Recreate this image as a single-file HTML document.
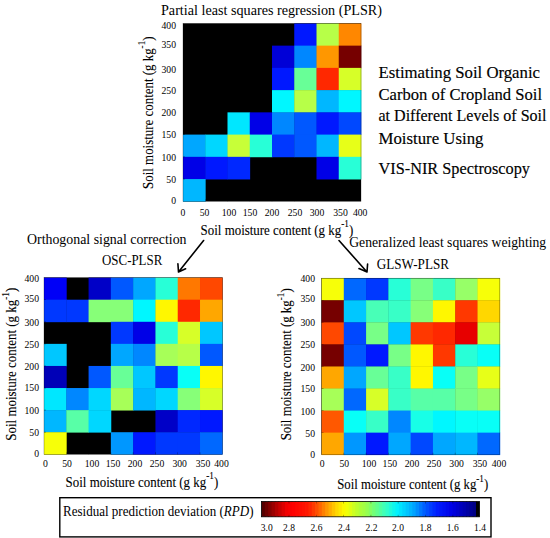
<!DOCTYPE html>
<html><head><meta charset="utf-8"><title>Graphical abstract</title>
<style>html,body{margin:0;padding:0;background:#fff}svg{display:block}text{fill:#000}</style></head>
<body><svg width="550" height="538" viewBox="0 0 550 538">
<rect width="550" height="538" fill="#fff"/>
<rect x="183" y="23.4" width="178" height="177.9" fill="#000"/>
<rect x="294.25" y="23.40" width="22.65" height="22.64" fill="rgb(0, 24, 255)"/>
<rect x="316.50" y="23.40" width="22.65" height="22.64" fill="rgb(183, 255, 72)"/>
<rect x="338.75" y="23.40" width="22.65" height="22.64" fill="rgb(255, 135, 0)"/>
<rect x="272.00" y="45.64" width="22.65" height="22.64" fill="rgb(0, 0, 215)"/>
<rect x="294.25" y="45.64" width="22.65" height="22.64" fill="rgb(0, 135, 255)"/>
<rect x="316.50" y="45.64" width="22.65" height="22.64" fill="rgb(255, 151, 0)"/>
<rect x="338.75" y="45.64" width="22.65" height="22.64" fill="rgb(118, 0, 0)"/>
<rect x="272.00" y="67.88" width="22.65" height="22.64" fill="rgb(0, 24, 255)"/>
<rect x="294.25" y="67.88" width="22.65" height="22.64" fill="rgb(104, 255, 151)"/>
<rect x="316.50" y="67.88" width="22.65" height="22.64" fill="rgb(255, 40, 0)"/>
<rect x="338.75" y="67.88" width="22.65" height="22.64" fill="rgb(215, 255, 40)"/>
<rect x="272.00" y="90.11" width="22.65" height="22.64" fill="rgb(0, 247, 255)"/>
<rect x="294.25" y="90.11" width="22.65" height="22.64" fill="rgb(183, 255, 72)"/>
<rect x="316.50" y="90.11" width="22.65" height="22.64" fill="rgb(0, 183, 255)"/>
<rect x="338.75" y="90.11" width="22.65" height="22.64" fill="rgb(0, 247, 255)"/>
<rect x="227.50" y="112.35" width="22.65" height="22.64" fill="rgb(0, 231, 255)"/>
<rect x="249.75" y="112.35" width="22.65" height="22.64" fill="rgb(0, 0, 231)"/>
<rect x="272.00" y="112.35" width="22.65" height="22.64" fill="rgb(0, 135, 255)"/>
<rect x="294.25" y="112.35" width="22.65" height="22.64" fill="rgb(0, 88, 255)"/>
<rect x="316.50" y="112.35" width="22.65" height="22.64" fill="rgb(0, 24, 255)"/>
<rect x="338.75" y="112.35" width="22.65" height="22.64" fill="rgb(0, 72, 255)"/>
<rect x="183.00" y="134.59" width="22.65" height="22.64" fill="rgb(0, 167, 255)"/>
<rect x="205.25" y="134.59" width="22.65" height="22.64" fill="rgb(0, 215, 255)"/>
<rect x="227.50" y="134.59" width="22.65" height="22.64" fill="rgb(199, 255, 56)"/>
<rect x="249.75" y="134.59" width="22.65" height="22.64" fill="rgb(40, 255, 215)"/>
<rect x="272.00" y="134.59" width="22.65" height="22.64" fill="rgb(0, 56, 255)"/>
<rect x="294.25" y="134.59" width="22.65" height="22.64" fill="rgb(0, 88, 255)"/>
<rect x="316.50" y="134.59" width="22.65" height="22.64" fill="rgb(0, 183, 255)"/>
<rect x="338.75" y="134.59" width="22.65" height="22.64" fill="rgb(231, 255, 24)"/>
<rect x="183.00" y="156.83" width="22.65" height="22.64" fill="rgb(0, 0, 231)"/>
<rect x="205.25" y="156.83" width="22.65" height="22.64" fill="rgb(0, 24, 255)"/>
<rect x="227.50" y="156.83" width="22.65" height="22.64" fill="rgb(0, 40, 255)"/>
<rect x="316.50" y="156.83" width="22.65" height="22.64" fill="rgb(0, 0, 231)"/>
<rect x="338.75" y="156.83" width="22.65" height="22.64" fill="rgb(40, 255, 215)"/>
<rect x="183.00" y="179.06" width="22.65" height="22.64" fill="rgb(0, 183, 255)"/>
<rect x="183" y="23.4" width="178" height="177.9" fill="none" stroke="#000" stroke-width="0.5" opacity="0.55"/>
<line x1="205.25" y1="201.3" x2="205.25" y2="199.3" stroke="#000" stroke-width="0.5" opacity="0.6"/>
<line x1="183" y1="45.64" x2="185" y2="45.64" stroke="#000" stroke-width="0.5" opacity="0.6"/>
<line x1="227.50" y1="201.3" x2="227.50" y2="199.3" stroke="#000" stroke-width="0.5" opacity="0.6"/>
<line x1="183" y1="67.88" x2="185" y2="67.88" stroke="#000" stroke-width="0.5" opacity="0.6"/>
<line x1="249.75" y1="201.3" x2="249.75" y2="199.3" stroke="#000" stroke-width="0.5" opacity="0.6"/>
<line x1="183" y1="90.11" x2="185" y2="90.11" stroke="#000" stroke-width="0.5" opacity="0.6"/>
<line x1="272.00" y1="201.3" x2="272.00" y2="199.3" stroke="#000" stroke-width="0.5" opacity="0.6"/>
<line x1="183" y1="112.35" x2="185" y2="112.35" stroke="#000" stroke-width="0.5" opacity="0.6"/>
<line x1="294.25" y1="201.3" x2="294.25" y2="199.3" stroke="#000" stroke-width="0.5" opacity="0.6"/>
<line x1="183" y1="134.59" x2="185" y2="134.59" stroke="#000" stroke-width="0.5" opacity="0.6"/>
<line x1="316.50" y1="201.3" x2="316.50" y2="199.3" stroke="#000" stroke-width="0.5" opacity="0.6"/>
<line x1="183" y1="156.83" x2="185" y2="156.83" stroke="#000" stroke-width="0.5" opacity="0.6"/>
<line x1="338.75" y1="201.3" x2="338.75" y2="199.3" stroke="#000" stroke-width="0.5" opacity="0.6"/>
<line x1="183" y1="179.06" x2="185" y2="179.06" stroke="#000" stroke-width="0.5" opacity="0.6"/>
<text x="183" y="215.8" font-size="9.7" text-anchor="middle" font-family="Liberation Serif, serif">0</text>
<text x="204.5" y="215.8" font-size="9.7" text-anchor="middle" font-family="Liberation Serif, serif">50</text>
<text x="229" y="215.8" font-size="9.7" text-anchor="middle" font-family="Liberation Serif, serif">100</text>
<text x="250" y="215.8" font-size="9.7" text-anchor="middle" font-family="Liberation Serif, serif">150</text>
<text x="272" y="215.8" font-size="9.7" text-anchor="middle" font-family="Liberation Serif, serif">200</text>
<text x="295" y="215.8" font-size="9.7" text-anchor="middle" font-family="Liberation Serif, serif">250</text>
<text x="317" y="215.8" font-size="9.7" text-anchor="middle" font-family="Liberation Serif, serif">300</text>
<text x="340.5" y="215.8" font-size="9.7" text-anchor="middle" font-family="Liberation Serif, serif">350</text>
<text x="360.2" y="215.8" font-size="9.7" text-anchor="middle" font-family="Liberation Serif, serif">400</text>
<text x="176" y="28.6" font-size="9.7" text-anchor="end" font-family="Liberation Serif, serif">400</text>
<text x="176" y="48.4" font-size="9.7" text-anchor="end" font-family="Liberation Serif, serif">350</text>
<text x="176" y="72.6" font-size="9.7" text-anchor="end" font-family="Liberation Serif, serif">300</text>
<text x="176" y="94.1" font-size="9.7" text-anchor="end" font-family="Liberation Serif, serif">250</text>
<text x="176" y="116.1" font-size="9.7" text-anchor="end" font-family="Liberation Serif, serif">200</text>
<text x="176" y="137.6" font-size="9.7" text-anchor="end" font-family="Liberation Serif, serif">150</text>
<text x="176" y="160.7" font-size="9.7" text-anchor="end" font-family="Liberation Serif, serif">100</text>
<text x="176" y="182.6" font-size="9.7" text-anchor="end" font-family="Liberation Serif, serif">50</text>
<text x="176" y="204.29999999999998" font-size="9.7" text-anchor="end" font-family="Liberation Serif, serif">0</text>
<g transform="translate(200.6,234.7)"><text x="0" y="0" font-size="13.8" font-family="Liberation Serif, serif" textLength="152.6" lengthAdjust="spacingAndGlyphs" stroke="#000" stroke-width="0.1">Soil moisture content (g kg<tspan dy="-7.3" font-size="9.9">-1</tspan><tspan dy="7.3">)</tspan></text></g>
<g transform="translate(152.7,188.9) rotate(-90)"><text x="0" y="0" font-size="13.8" font-family="Liberation Serif, serif" textLength="152.5" lengthAdjust="spacingAndGlyphs" stroke="#000" stroke-width="0.1">Soil moisture content (g kg<tspan dy="-7.3" font-size="9.9">-1</tspan><tspan dy="7.3">)</tspan></text></g>
<text x="161" y="14.6" font-size="14" font-family="Liberation Serif, serif" textLength="221" lengthAdjust="spacingAndGlyphs" >Partial least squares regression (PLSR)</text>
<text x="378.5" y="77.7" font-size="16.2" font-family="Liberation Serif, serif" textLength="161.5" lengthAdjust="spacingAndGlyphs" stroke="#000" stroke-width="0.15">Estimating Soil Organic</text>
<text x="378.5" y="99.7" font-size="16.2" font-family="Liberation Serif, serif" textLength="163.5" lengthAdjust="spacingAndGlyphs" stroke="#000" stroke-width="0.15">Carbon of Cropland Soil</text>
<text x="378.5" y="121.2" font-size="16.2" font-family="Liberation Serif, serif" textLength="168" lengthAdjust="spacingAndGlyphs" stroke="#000" stroke-width="0.15">at Different Levels of Soil</text>
<text x="378.5" y="143.8" font-size="16.2" font-family="Liberation Serif, serif" textLength="105" lengthAdjust="spacingAndGlyphs" stroke="#000" stroke-width="0.15">Moisture Using</text>
<text x="378.5" y="173.8" font-size="16.2" font-family="Liberation Serif, serif" textLength="151.5" lengthAdjust="spacingAndGlyphs" stroke="#000" stroke-width="0.15">VIS-NIR Spectroscopy</text>
<rect x="44" y="277.6" width="178.3" height="176.7" fill="#000"/>
<rect x="44.00" y="277.60" width="22.69" height="22.49" fill="rgb(0, 0, 247)"/>
<rect x="88.58" y="277.60" width="22.69" height="22.49" fill="rgb(0, 0, 199)"/>
<rect x="110.86" y="277.60" width="22.69" height="22.49" fill="rgb(0, 88, 255)"/>
<rect x="133.15" y="277.60" width="22.69" height="22.49" fill="rgb(0, 167, 255)"/>
<rect x="155.44" y="277.60" width="22.69" height="22.49" fill="rgb(40, 255, 215)"/>
<rect x="177.73" y="277.60" width="22.69" height="22.49" fill="rgb(255, 120, 0)"/>
<rect x="200.01" y="277.60" width="22.69" height="22.49" fill="rgb(255, 72, 0)"/>
<rect x="44.00" y="299.69" width="22.69" height="22.49" fill="rgb(0, 56, 255)"/>
<rect x="66.29" y="299.69" width="22.69" height="22.49" fill="rgb(0, 56, 255)"/>
<rect x="88.58" y="299.69" width="22.69" height="22.49" fill="rgb(135, 255, 120)"/>
<rect x="110.86" y="299.69" width="22.69" height="22.49" fill="rgb(135, 255, 120)"/>
<rect x="133.15" y="299.69" width="22.69" height="22.49" fill="rgb(0, 247, 255)"/>
<rect x="155.44" y="299.69" width="22.69" height="22.49" fill="rgb(255, 247, 0)"/>
<rect x="177.73" y="299.69" width="22.69" height="22.49" fill="rgb(255, 40, 0)"/>
<rect x="200.01" y="299.69" width="22.69" height="22.49" fill="rgb(255, 167, 0)"/>
<rect x="110.86" y="321.78" width="22.69" height="22.49" fill="rgb(0, 56, 255)"/>
<rect x="133.15" y="321.78" width="22.69" height="22.49" fill="rgb(0, 0, 231)"/>
<rect x="155.44" y="321.78" width="22.69" height="22.49" fill="rgb(40, 255, 215)"/>
<rect x="177.73" y="321.78" width="22.69" height="22.49" fill="rgb(215, 255, 40)"/>
<rect x="200.01" y="321.78" width="22.69" height="22.49" fill="rgb(0, 199, 255)"/>
<rect x="44.00" y="343.86" width="22.69" height="22.49" fill="rgb(0, 199, 255)"/>
<rect x="110.86" y="343.86" width="22.69" height="22.49" fill="rgb(0, 167, 255)"/>
<rect x="133.15" y="343.86" width="22.69" height="22.49" fill="rgb(0, 135, 255)"/>
<rect x="155.44" y="343.86" width="22.69" height="22.49" fill="rgb(167, 255, 88)"/>
<rect x="177.73" y="343.86" width="22.69" height="22.49" fill="rgb(183, 255, 72)"/>
<rect x="200.01" y="343.86" width="22.69" height="22.49" fill="rgb(0, 88, 255)"/>
<rect x="44.00" y="365.95" width="22.69" height="22.49" fill="rgb(0, 0, 183)"/>
<rect x="88.58" y="365.95" width="22.69" height="22.49" fill="rgb(0, 88, 255)"/>
<rect x="110.86" y="365.95" width="22.69" height="22.49" fill="rgb(104, 255, 151)"/>
<rect x="133.15" y="365.95" width="22.69" height="22.49" fill="rgb(0, 199, 255)"/>
<rect x="155.44" y="365.95" width="22.69" height="22.49" fill="rgb(0, 56, 255)"/>
<rect x="177.73" y="365.95" width="22.69" height="22.49" fill="rgb(8, 255, 247)"/>
<rect x="200.01" y="365.95" width="22.69" height="22.49" fill="rgb(255, 247, 0)"/>
<rect x="44.00" y="388.04" width="22.69" height="22.49" fill="rgb(0, 231, 255)"/>
<rect x="66.29" y="388.04" width="22.69" height="22.49" fill="rgb(0, 135, 255)"/>
<rect x="88.58" y="388.04" width="22.69" height="22.49" fill="rgb(0, 215, 255)"/>
<rect x="110.86" y="388.04" width="22.69" height="22.49" fill="rgb(167, 255, 88)"/>
<rect x="133.15" y="388.04" width="22.69" height="22.49" fill="rgb(0, 183, 255)"/>
<rect x="155.44" y="388.04" width="22.69" height="22.49" fill="rgb(0, 215, 255)"/>
<rect x="177.73" y="388.04" width="22.69" height="22.49" fill="rgb(135, 255, 120)"/>
<rect x="200.01" y="388.04" width="22.69" height="22.49" fill="rgb(215, 255, 40)"/>
<rect x="44.00" y="410.12" width="22.69" height="22.49" fill="rgb(0, 183, 255)"/>
<rect x="66.29" y="410.12" width="22.69" height="22.49" fill="rgb(88, 255, 167)"/>
<rect x="88.58" y="410.12" width="22.69" height="22.49" fill="rgb(0, 215, 255)"/>
<rect x="155.44" y="410.12" width="22.69" height="22.49" fill="rgb(0, 0, 199)"/>
<rect x="177.73" y="410.12" width="22.69" height="22.49" fill="rgb(0, 40, 255)"/>
<rect x="200.01" y="410.12" width="22.69" height="22.49" fill="rgb(0, 24, 255)"/>
<rect x="44.00" y="432.21" width="22.69" height="22.49" fill="rgb(247, 255, 8)"/>
<rect x="110.86" y="432.21" width="22.69" height="22.49" fill="rgb(0, 151, 255)"/>
<rect x="133.15" y="432.21" width="22.69" height="22.49" fill="rgb(0, 24, 255)"/>
<rect x="155.44" y="432.21" width="22.69" height="22.49" fill="rgb(0, 56, 255)"/>
<rect x="177.73" y="432.21" width="22.69" height="22.49" fill="rgb(0, 56, 255)"/>
<rect x="200.01" y="432.21" width="22.69" height="22.49" fill="rgb(0, 104, 255)"/>
<rect x="44" y="277.6" width="178.3" height="176.7" fill="none" stroke="#000" stroke-width="0.5" opacity="0.55"/>
<line x1="66.29" y1="454.3" x2="66.29" y2="452.3" stroke="#000" stroke-width="0.5" opacity="0.6"/>
<line x1="44" y1="299.69" x2="46" y2="299.69" stroke="#000" stroke-width="0.5" opacity="0.6"/>
<line x1="88.58" y1="454.3" x2="88.58" y2="452.3" stroke="#000" stroke-width="0.5" opacity="0.6"/>
<line x1="44" y1="321.78" x2="46" y2="321.78" stroke="#000" stroke-width="0.5" opacity="0.6"/>
<line x1="110.86" y1="454.3" x2="110.86" y2="452.3" stroke="#000" stroke-width="0.5" opacity="0.6"/>
<line x1="44" y1="343.86" x2="46" y2="343.86" stroke="#000" stroke-width="0.5" opacity="0.6"/>
<line x1="133.15" y1="454.3" x2="133.15" y2="452.3" stroke="#000" stroke-width="0.5" opacity="0.6"/>
<line x1="44" y1="365.95" x2="46" y2="365.95" stroke="#000" stroke-width="0.5" opacity="0.6"/>
<line x1="155.44" y1="454.3" x2="155.44" y2="452.3" stroke="#000" stroke-width="0.5" opacity="0.6"/>
<line x1="44" y1="388.04" x2="46" y2="388.04" stroke="#000" stroke-width="0.5" opacity="0.6"/>
<line x1="177.73" y1="454.3" x2="177.73" y2="452.3" stroke="#000" stroke-width="0.5" opacity="0.6"/>
<line x1="44" y1="410.12" x2="46" y2="410.12" stroke="#000" stroke-width="0.5" opacity="0.6"/>
<line x1="200.01" y1="454.3" x2="200.01" y2="452.3" stroke="#000" stroke-width="0.5" opacity="0.6"/>
<line x1="44" y1="432.21" x2="46" y2="432.21" stroke="#000" stroke-width="0.5" opacity="0.6"/>
<text x="45.3" y="466.7" font-size="9.7" text-anchor="middle" font-family="Liberation Serif, serif">0</text>
<text x="67" y="466.7" font-size="9.7" text-anchor="middle" font-family="Liberation Serif, serif">50</text>
<text x="92" y="466.7" font-size="9.7" text-anchor="middle" font-family="Liberation Serif, serif">100</text>
<text x="113" y="466.7" font-size="9.7" text-anchor="middle" font-family="Liberation Serif, serif">150</text>
<text x="135" y="466.7" font-size="9.7" text-anchor="middle" font-family="Liberation Serif, serif">200</text>
<text x="157" y="466.7" font-size="9.7" text-anchor="middle" font-family="Liberation Serif, serif">250</text>
<text x="179.7" y="466.7" font-size="9.7" text-anchor="middle" font-family="Liberation Serif, serif">300</text>
<text x="203" y="466.7" font-size="9.7" text-anchor="middle" font-family="Liberation Serif, serif">350</text>
<text x="221.5" y="466.7" font-size="9.7" text-anchor="middle" font-family="Liberation Serif, serif">400</text>
<text x="39" y="282.40000000000003" font-size="9.7" text-anchor="end" font-family="Liberation Serif, serif">400</text>
<text x="39" y="301.6" font-size="9.7" text-anchor="end" font-family="Liberation Serif, serif">350</text>
<text x="39" y="326.1" font-size="9.7" text-anchor="end" font-family="Liberation Serif, serif">300</text>
<text x="39" y="347.6" font-size="9.7" text-anchor="end" font-family="Liberation Serif, serif">250</text>
<text x="39" y="369.6" font-size="9.7" text-anchor="end" font-family="Liberation Serif, serif">200</text>
<text x="39" y="391.1" font-size="9.7" text-anchor="end" font-family="Liberation Serif, serif">150</text>
<text x="39" y="414.1" font-size="9.7" text-anchor="end" font-family="Liberation Serif, serif">100</text>
<text x="39" y="435.6" font-size="9.7" text-anchor="end" font-family="Liberation Serif, serif">50</text>
<text x="39" y="457.1" font-size="9.7" text-anchor="end" font-family="Liberation Serif, serif">0</text>
<g transform="translate(65.6,486.6)"><text x="0" y="0" font-size="13.8" font-family="Liberation Serif, serif" textLength="152.6" lengthAdjust="spacingAndGlyphs" stroke="#000" stroke-width="0.1">Soil moisture content (g kg<tspan dy="-7.3" font-size="9.9">-1</tspan><tspan dy="7.3">)</tspan></text></g>
<g transform="translate(16.4,440.7) rotate(-90)"><text x="0" y="0" font-size="13.8" font-family="Liberation Serif, serif" textLength="153" lengthAdjust="spacingAndGlyphs" stroke="#000" stroke-width="0.1">Soil moisture content (g kg<tspan dy="-7.3" font-size="9.9">-1</tspan><tspan dy="7.3">)</tspan></text></g>
<text x="27" y="243.6" font-size="14" font-family="Liberation Serif, serif" textLength="159.5" lengthAdjust="spacingAndGlyphs" >Orthogonal signal correction</text>
<text x="102" y="264.7" font-size="14" font-family="Liberation Serif, serif" textLength="60.3" lengthAdjust="spacingAndGlyphs" >OSC-PLSR</text>
<path d="M203.6 240.5L178.5 272.0M177.9 263.8L178.5 272.0L185.6 268.8" fill="none" stroke="#000" stroke-width="1.6" stroke-linecap="round" stroke-linejoin="round"/>
<rect x="321.5" y="278.2" width="178.3" height="176.5" fill="#000"/>
<rect x="321.50" y="278.20" width="22.69" height="22.46" fill="rgb(247, 255, 8)"/>
<rect x="343.79" y="278.20" width="22.69" height="22.46" fill="rgb(0, 104, 255)"/>
<rect x="366.07" y="278.20" width="22.69" height="22.46" fill="rgb(0, 56, 255)"/>
<rect x="388.36" y="278.20" width="22.69" height="22.46" fill="rgb(40, 255, 215)"/>
<rect x="410.65" y="278.20" width="22.69" height="22.46" fill="rgb(120, 255, 135)"/>
<rect x="432.94" y="278.20" width="22.69" height="22.46" fill="rgb(56, 255, 199)"/>
<rect x="455.23" y="278.20" width="22.69" height="22.46" fill="rgb(151, 255, 104)"/>
<rect x="477.51" y="278.20" width="22.69" height="22.46" fill="rgb(247, 255, 8)"/>
<rect x="321.50" y="300.26" width="22.69" height="22.46" fill="rgb(118, 0, 0)"/>
<rect x="343.79" y="300.26" width="22.69" height="22.46" fill="rgb(0, 199, 255)"/>
<rect x="366.07" y="300.26" width="22.69" height="22.46" fill="rgb(72, 255, 183)"/>
<rect x="388.36" y="300.26" width="22.69" height="22.46" fill="rgb(56, 255, 199)"/>
<rect x="410.65" y="300.26" width="22.69" height="22.46" fill="rgb(135, 255, 120)"/>
<rect x="432.94" y="300.26" width="22.69" height="22.46" fill="rgb(255, 247, 0)"/>
<rect x="455.23" y="300.26" width="22.69" height="22.46" fill="rgb(255, 56, 0)"/>
<rect x="477.51" y="300.26" width="22.69" height="22.46" fill="rgb(255, 215, 0)"/>
<rect x="321.50" y="322.32" width="22.69" height="22.46" fill="rgb(255, 72, 0)"/>
<rect x="343.79" y="322.32" width="22.69" height="22.46" fill="rgb(0, 72, 255)"/>
<rect x="366.07" y="322.32" width="22.69" height="22.46" fill="rgb(120, 255, 135)"/>
<rect x="388.36" y="322.32" width="22.69" height="22.46" fill="rgb(0, 199, 255)"/>
<rect x="410.65" y="322.32" width="22.69" height="22.46" fill="rgb(255, 56, 0)"/>
<rect x="432.94" y="322.32" width="22.69" height="22.46" fill="rgb(255, 40, 0)"/>
<rect x="455.23" y="322.32" width="22.69" height="22.46" fill="rgb(231, 0, 0)"/>
<rect x="477.51" y="322.32" width="22.69" height="22.46" fill="rgb(199, 255, 56)"/>
<rect x="321.50" y="344.39" width="22.69" height="22.46" fill="rgb(118, 0, 0)"/>
<rect x="343.79" y="344.39" width="22.69" height="22.46" fill="rgb(0, 88, 255)"/>
<rect x="366.07" y="344.39" width="22.69" height="22.46" fill="rgb(0, 24, 255)"/>
<rect x="388.36" y="344.39" width="22.69" height="22.46" fill="rgb(120, 255, 135)"/>
<rect x="410.65" y="344.39" width="22.69" height="22.46" fill="rgb(255, 247, 0)"/>
<rect x="432.94" y="344.39" width="22.69" height="22.46" fill="rgb(255, 56, 0)"/>
<rect x="455.23" y="344.39" width="22.69" height="22.46" fill="rgb(40, 255, 215)"/>
<rect x="477.51" y="344.39" width="22.69" height="22.46" fill="rgb(8, 255, 247)"/>
<rect x="321.50" y="366.45" width="22.69" height="22.46" fill="rgb(255, 167, 0)"/>
<rect x="343.79" y="366.45" width="22.69" height="22.46" fill="rgb(0, 167, 255)"/>
<rect x="366.07" y="366.45" width="22.69" height="22.46" fill="rgb(104, 255, 151)"/>
<rect x="388.36" y="366.45" width="22.69" height="22.46" fill="rgb(56, 255, 199)"/>
<rect x="410.65" y="366.45" width="22.69" height="22.46" fill="rgb(255, 247, 0)"/>
<rect x="432.94" y="366.45" width="22.69" height="22.46" fill="rgb(8, 255, 247)"/>
<rect x="455.23" y="366.45" width="22.69" height="22.46" fill="rgb(120, 255, 135)"/>
<rect x="477.51" y="366.45" width="22.69" height="22.46" fill="rgb(231, 255, 24)"/>
<rect x="321.50" y="388.51" width="22.69" height="22.46" fill="rgb(167, 255, 88)"/>
<rect x="343.79" y="388.51" width="22.69" height="22.46" fill="rgb(0, 104, 255)"/>
<rect x="366.07" y="388.51" width="22.69" height="22.46" fill="rgb(215, 255, 40)"/>
<rect x="388.36" y="388.51" width="22.69" height="22.46" fill="rgb(56, 255, 199)"/>
<rect x="410.65" y="388.51" width="22.69" height="22.46" fill="rgb(88, 255, 167)"/>
<rect x="432.94" y="388.51" width="22.69" height="22.46" fill="rgb(88, 255, 167)"/>
<rect x="455.23" y="388.51" width="22.69" height="22.46" fill="rgb(120, 255, 135)"/>
<rect x="477.51" y="388.51" width="22.69" height="22.46" fill="rgb(151, 255, 104)"/>
<rect x="321.50" y="410.57" width="22.69" height="22.46" fill="rgb(255, 88, 0)"/>
<rect x="343.79" y="410.57" width="22.69" height="22.46" fill="rgb(8, 255, 247)"/>
<rect x="366.07" y="410.57" width="22.69" height="22.46" fill="rgb(56, 255, 199)"/>
<rect x="388.36" y="410.57" width="22.69" height="22.46" fill="rgb(0, 135, 255)"/>
<rect x="410.65" y="410.57" width="22.69" height="22.46" fill="rgb(24, 255, 231)"/>
<rect x="432.94" y="410.57" width="22.69" height="22.46" fill="rgb(0, 247, 255)"/>
<rect x="455.23" y="410.57" width="22.69" height="22.46" fill="rgb(8, 255, 247)"/>
<rect x="477.51" y="410.57" width="22.69" height="22.46" fill="rgb(8, 255, 247)"/>
<rect x="321.50" y="432.64" width="22.69" height="22.46" fill="rgb(255, 167, 0)"/>
<rect x="343.79" y="432.64" width="22.69" height="22.46" fill="rgb(0, 151, 255)"/>
<rect x="366.07" y="432.64" width="22.69" height="22.46" fill="rgb(0, 24, 255)"/>
<rect x="388.36" y="432.64" width="22.69" height="22.46" fill="rgb(0, 167, 255)"/>
<rect x="410.65" y="432.64" width="22.69" height="22.46" fill="rgb(0, 72, 255)"/>
<rect x="432.94" y="432.64" width="22.69" height="22.46" fill="rgb(0, 167, 255)"/>
<rect x="455.23" y="432.64" width="22.69" height="22.46" fill="rgb(0, 183, 255)"/>
<rect x="477.51" y="432.64" width="22.69" height="22.46" fill="rgb(0, 104, 255)"/>
<rect x="321.5" y="278.2" width="178.3" height="176.5" fill="none" stroke="#000" stroke-width="0.5" opacity="0.55"/>
<line x1="343.79" y1="454.7" x2="343.79" y2="452.7" stroke="#000" stroke-width="0.5" opacity="0.6"/>
<line x1="321.5" y1="300.26" x2="323.5" y2="300.26" stroke="#000" stroke-width="0.5" opacity="0.6"/>
<line x1="366.07" y1="454.7" x2="366.07" y2="452.7" stroke="#000" stroke-width="0.5" opacity="0.6"/>
<line x1="321.5" y1="322.32" x2="323.5" y2="322.32" stroke="#000" stroke-width="0.5" opacity="0.6"/>
<line x1="388.36" y1="454.7" x2="388.36" y2="452.7" stroke="#000" stroke-width="0.5" opacity="0.6"/>
<line x1="321.5" y1="344.39" x2="323.5" y2="344.39" stroke="#000" stroke-width="0.5" opacity="0.6"/>
<line x1="410.65" y1="454.7" x2="410.65" y2="452.7" stroke="#000" stroke-width="0.5" opacity="0.6"/>
<line x1="321.5" y1="366.45" x2="323.5" y2="366.45" stroke="#000" stroke-width="0.5" opacity="0.6"/>
<line x1="432.94" y1="454.7" x2="432.94" y2="452.7" stroke="#000" stroke-width="0.5" opacity="0.6"/>
<line x1="321.5" y1="388.51" x2="323.5" y2="388.51" stroke="#000" stroke-width="0.5" opacity="0.6"/>
<line x1="455.23" y1="454.7" x2="455.23" y2="452.7" stroke="#000" stroke-width="0.5" opacity="0.6"/>
<line x1="321.5" y1="410.57" x2="323.5" y2="410.57" stroke="#000" stroke-width="0.5" opacity="0.6"/>
<line x1="477.51" y1="454.7" x2="477.51" y2="452.7" stroke="#000" stroke-width="0.5" opacity="0.6"/>
<line x1="321.5" y1="432.64" x2="323.5" y2="432.64" stroke="#000" stroke-width="0.5" opacity="0.6"/>
<text x="322.2" y="466.7" font-size="9.7" text-anchor="middle" font-family="Liberation Serif, serif">0</text>
<text x="344.3" y="466.7" font-size="9.7" text-anchor="middle" font-family="Liberation Serif, serif">50</text>
<text x="369" y="466.7" font-size="9.7" text-anchor="middle" font-family="Liberation Serif, serif">100</text>
<text x="389.8" y="466.7" font-size="9.7" text-anchor="middle" font-family="Liberation Serif, serif">150</text>
<text x="412" y="466.7" font-size="9.7" text-anchor="middle" font-family="Liberation Serif, serif">200</text>
<text x="434" y="466.7" font-size="9.7" text-anchor="middle" font-family="Liberation Serif, serif">250</text>
<text x="456.6" y="466.7" font-size="9.7" text-anchor="middle" font-family="Liberation Serif, serif">300</text>
<text x="479.9" y="466.7" font-size="9.7" text-anchor="middle" font-family="Liberation Serif, serif">350</text>
<text x="499" y="466.7" font-size="9.7" text-anchor="middle" font-family="Liberation Serif, serif">400</text>
<text x="315" y="282.40000000000003" font-size="9.7" text-anchor="end" font-family="Liberation Serif, serif">400</text>
<text x="315" y="302.1" font-size="9.7" text-anchor="end" font-family="Liberation Serif, serif">350</text>
<text x="315" y="326.1" font-size="9.7" text-anchor="end" font-family="Liberation Serif, serif">300</text>
<text x="315" y="348.1" font-size="9.7" text-anchor="end" font-family="Liberation Serif, serif">250</text>
<text x="315" y="370.5" font-size="9.7" text-anchor="end" font-family="Liberation Serif, serif">200</text>
<text x="315" y="392.1" font-size="9.7" text-anchor="end" font-family="Liberation Serif, serif">150</text>
<text x="315" y="415.1" font-size="9.7" text-anchor="end" font-family="Liberation Serif, serif">100</text>
<text x="315" y="436.70000000000005" font-size="9.7" text-anchor="end" font-family="Liberation Serif, serif">50</text>
<text x="315" y="457.90000000000003" font-size="9.7" text-anchor="end" font-family="Liberation Serif, serif">0</text>
<g transform="translate(337.2,488.9)"><text x="0" y="0" font-size="13.8" font-family="Liberation Serif, serif" textLength="151" lengthAdjust="spacingAndGlyphs" stroke="#000" stroke-width="0.1">Soil moisture content (g kg<tspan dy="-7.3" font-size="9.9">-1</tspan><tspan dy="7.3">)</tspan></text></g>
<g transform="translate(290.8,440.3) rotate(-90)"><text x="0" y="0" font-size="13.8" font-family="Liberation Serif, serif" textLength="152" lengthAdjust="spacingAndGlyphs" stroke="#000" stroke-width="0.1">Soil moisture content (g kg<tspan dy="-7.3" font-size="9.9">-1</tspan><tspan dy="7.3">)</tspan></text></g>
<text x="349.2" y="247.1" font-size="14" font-family="Liberation Serif, serif" textLength="197" lengthAdjust="spacingAndGlyphs" >Generalized least squares weighting</text>
<text x="376.7" y="268.7" font-size="14" font-family="Liberation Serif, serif" textLength="72.3" lengthAdjust="spacingAndGlyphs" >GLSW-PLSR</text>
<path d="M339 240.5L367 272M359 268.6L367 272L367.6 264" fill="none" stroke="#000" stroke-width="1.6" stroke-linecap="round" stroke-linejoin="round"/>
<rect x="59.8" y="497.7" width="431.2" height="39.2" fill="#fff" stroke="#000" stroke-width="1.4"/>
<text x="63" y="516.3" font-size="14" font-family="Liberation Serif, serif" textLength="190.5" lengthAdjust="spacingAndGlyphs" >Residual prediction deviation (<tspan font-style="italic">RPD</tspan>)</text>
<rect x="261.50" y="501.5" width="4.15" height="15.299999999999955" fill="rgb(86, 0, 0)"/>
<rect x="264.85" y="501.5" width="4.15" height="15.299999999999955" fill="rgb(109, 0, 0)"/>
<rect x="268.20" y="501.5" width="4.15" height="15.299999999999955" fill="rgb(132, 0, 0)"/>
<rect x="271.55" y="501.5" width="4.15" height="15.299999999999955" fill="rgb(155, 0, 0)"/>
<rect x="274.91" y="501.5" width="4.15" height="15.299999999999955" fill="rgb(179, 0, 0)"/>
<rect x="278.26" y="501.5" width="4.15" height="15.299999999999955" fill="rgb(200, 0, 0)"/>
<rect x="281.61" y="501.5" width="4.15" height="15.299999999999955" fill="rgb(221, 0, 0)"/>
<rect x="284.96" y="501.5" width="4.15" height="15.299999999999955" fill="rgb(241, 0, 0)"/>
<rect x="288.31" y="501.5" width="4.15" height="15.299999999999955" fill="rgb(249, 0, 0)"/>
<rect x="291.66" y="501.5" width="4.15" height="15.299999999999955" fill="rgb(255, 1, 0)"/>
<rect x="295.02" y="501.5" width="4.15" height="15.299999999999955" fill="rgb(255, 7, 0)"/>
<rect x="298.37" y="501.5" width="4.15" height="15.299999999999955" fill="rgb(255, 12, 0)"/>
<rect x="301.72" y="501.5" width="4.15" height="15.299999999999955" fill="rgb(255, 17, 0)"/>
<rect x="305.07" y="501.5" width="4.15" height="15.299999999999955" fill="rgb(255, 23, 0)"/>
<rect x="308.42" y="501.5" width="4.15" height="15.299999999999955" fill="rgb(255, 38, 0)"/>
<rect x="311.77" y="501.5" width="4.15" height="15.299999999999955" fill="rgb(255, 58, 0)"/>
<rect x="315.12" y="501.5" width="4.15" height="15.299999999999955" fill="rgb(255, 79, 0)"/>
<rect x="318.48" y="501.5" width="4.15" height="15.299999999999955" fill="rgb(255, 102, 0)"/>
<rect x="321.83" y="501.5" width="4.15" height="15.299999999999955" fill="rgb(255, 127, 0)"/>
<rect x="325.18" y="501.5" width="4.15" height="15.299999999999955" fill="rgb(255, 151, 0)"/>
<rect x="328.53" y="501.5" width="4.15" height="15.299999999999955" fill="rgb(255, 173, 0)"/>
<rect x="331.88" y="501.5" width="4.15" height="15.299999999999955" fill="rgb(255, 195, 0)"/>
<rect x="335.23" y="501.5" width="4.15" height="15.299999999999955" fill="rgb(255, 216, 0)"/>
<rect x="338.59" y="501.5" width="4.15" height="15.299999999999955" fill="rgb(253, 232, 0)"/>
<rect x="341.94" y="501.5" width="4.15" height="15.299999999999955" fill="rgb(251, 248, 0)"/>
<rect x="345.29" y="501.5" width="4.15" height="15.299999999999955" fill="rgb(240, 255, 7)"/>
<rect x="348.64" y="501.5" width="4.15" height="15.299999999999955" fill="rgb(223, 255, 20)"/>
<rect x="351.99" y="501.5" width="4.15" height="15.299999999999955" fill="rgb(205, 255, 33)"/>
<rect x="355.34" y="501.5" width="4.15" height="15.299999999999955" fill="rgb(188, 255, 45)"/>
<rect x="358.70" y="501.5" width="4.15" height="15.299999999999955" fill="rgb(173, 255, 57)"/>
<rect x="362.05" y="501.5" width="4.15" height="15.299999999999955" fill="rgb(164, 255, 66)"/>
<rect x="365.40" y="501.5" width="4.15" height="15.299999999999955" fill="rgb(149, 255, 81)"/>
<rect x="368.75" y="501.5" width="4.15" height="15.299999999999955" fill="rgb(131, 255, 99)"/>
<rect x="372.10" y="501.5" width="4.15" height="15.299999999999955" fill="rgb(114, 255, 119)"/>
<rect x="375.45" y="501.5" width="4.15" height="15.299999999999955" fill="rgb(97, 255, 140)"/>
<rect x="378.80" y="501.5" width="4.15" height="15.299999999999955" fill="rgb(81, 255, 161)"/>
<rect x="382.16" y="501.5" width="4.15" height="15.299999999999955" fill="rgb(65, 255, 182)"/>
<rect x="385.51" y="501.5" width="4.15" height="15.299999999999955" fill="rgb(48, 254, 202)"/>
<rect x="388.86" y="501.5" width="4.15" height="15.299999999999955" fill="rgb(33, 250, 219)"/>
<rect x="392.21" y="501.5" width="4.15" height="15.299999999999955" fill="rgb(17, 245, 236)"/>
<rect x="395.56" y="501.5" width="4.15" height="15.299999999999955" fill="rgb(2, 241, 253)"/>
<rect x="398.91" y="501.5" width="4.15" height="15.299999999999955" fill="rgb(0, 227, 255)"/>
<rect x="402.27" y="501.5" width="4.15" height="15.299999999999955" fill="rgb(0, 211, 255)"/>
<rect x="405.62" y="501.5" width="4.15" height="15.299999999999955" fill="rgb(0, 196, 255)"/>
<rect x="408.97" y="501.5" width="4.15" height="15.299999999999955" fill="rgb(0, 181, 255)"/>
<rect x="412.32" y="501.5" width="4.15" height="15.299999999999955" fill="rgb(0, 163, 255)"/>
<rect x="415.67" y="501.5" width="4.15" height="15.299999999999955" fill="rgb(0, 141, 255)"/>
<rect x="419.02" y="501.5" width="4.15" height="15.299999999999955" fill="rgb(0, 119, 255)"/>
<rect x="422.38" y="501.5" width="4.15" height="15.299999999999955" fill="rgb(0, 96, 255)"/>
<rect x="425.73" y="501.5" width="4.15" height="15.299999999999955" fill="rgb(0, 78, 255)"/>
<rect x="429.08" y="501.5" width="4.15" height="15.299999999999955" fill="rgb(0, 61, 255)"/>
<rect x="432.43" y="501.5" width="4.15" height="15.299999999999955" fill="rgb(0, 44, 255)"/>
<rect x="435.78" y="501.5" width="4.15" height="15.299999999999955" fill="rgb(0, 29, 254)"/>
<rect x="439.13" y="501.5" width="4.15" height="15.299999999999955" fill="rgb(0, 22, 249)"/>
<rect x="442.48" y="501.5" width="4.15" height="15.299999999999955" fill="rgb(0, 16, 243)"/>
<rect x="445.84" y="501.5" width="4.15" height="15.299999999999955" fill="rgb(0, 9, 237)"/>
<rect x="449.19" y="501.5" width="4.15" height="15.299999999999955" fill="rgb(0, 2, 232)"/>
<rect x="452.54" y="501.5" width="4.15" height="15.299999999999955" fill="rgb(0, 0, 220)"/>
<rect x="455.89" y="501.5" width="4.15" height="15.299999999999955" fill="rgb(0, 0, 206)"/>
<rect x="459.24" y="501.5" width="4.15" height="15.299999999999955" fill="rgb(0, 0, 191)"/>
<rect x="462.59" y="501.5" width="4.15" height="15.299999999999955" fill="rgb(0, 0, 177)"/>
<rect x="465.95" y="501.5" width="4.15" height="15.299999999999955" fill="rgb(0, 0, 163)"/>
<rect x="469.30" y="501.5" width="4.15" height="15.299999999999955" fill="rgb(0, 0, 148)"/>
<rect x="472.65" y="501.5" width="4.15" height="15.299999999999955" fill="rgb(0, 0, 133)"/>
<rect x="476.0" y="501.5" width="3.5" height="15.299999999999955" fill="#000"/>
<rect x="261.5" y="501.5" width="218.0" height="15.299999999999955" fill="none" stroke="#000" stroke-width="0.8"/>
<text x="266.8" y="531.3" font-size="9.5" text-anchor="middle" font-family="Liberation Serif, serif">3.0</text>
<text x="289" y="531.3" font-size="9.5" text-anchor="middle" font-family="Liberation Serif, serif">2.8</text>
<text x="316.5" y="531.3" font-size="9.5" text-anchor="middle" font-family="Liberation Serif, serif">2.6</text>
<text x="344" y="531.3" font-size="9.5" text-anchor="middle" font-family="Liberation Serif, serif">2.4</text>
<text x="371.5" y="531.3" font-size="9.5" text-anchor="middle" font-family="Liberation Serif, serif">2.2</text>
<text x="398" y="531.3" font-size="9.5" text-anchor="middle" font-family="Liberation Serif, serif">2.0</text>
<text x="425.5" y="531.3" font-size="9.5" text-anchor="middle" font-family="Liberation Serif, serif">1.8</text>
<text x="452.7" y="531.3" font-size="9.5" text-anchor="middle" font-family="Liberation Serif, serif">1.6</text>
<text x="480" y="531.3" font-size="9.5" text-anchor="middle" font-family="Liberation Serif, serif">1.4</text>
<line x1="289.0" y1="501.5" x2="289.0" y2="503.5" stroke="#000" stroke-width="0.5" opacity="0.6"/>
<line x1="289.0" y1="516.8" x2="289.0" y2="514.8" stroke="#000" stroke-width="0.5" opacity="0.6"/>
<line x1="316.3" y1="501.5" x2="316.3" y2="503.5" stroke="#000" stroke-width="0.5" opacity="0.6"/>
<line x1="316.3" y1="516.8" x2="316.3" y2="514.8" stroke="#000" stroke-width="0.5" opacity="0.6"/>
<line x1="343.6" y1="501.5" x2="343.6" y2="503.5" stroke="#000" stroke-width="0.5" opacity="0.6"/>
<line x1="343.6" y1="516.8" x2="343.6" y2="514.8" stroke="#000" stroke-width="0.5" opacity="0.6"/>
<line x1="370.9" y1="501.5" x2="370.9" y2="503.5" stroke="#000" stroke-width="0.5" opacity="0.6"/>
<line x1="370.9" y1="516.8" x2="370.9" y2="514.8" stroke="#000" stroke-width="0.5" opacity="0.6"/>
<line x1="398.2" y1="501.5" x2="398.2" y2="503.5" stroke="#000" stroke-width="0.5" opacity="0.6"/>
<line x1="398.2" y1="516.8" x2="398.2" y2="514.8" stroke="#000" stroke-width="0.5" opacity="0.6"/>
<line x1="425.5" y1="501.5" x2="425.5" y2="503.5" stroke="#000" stroke-width="0.5" opacity="0.6"/>
<line x1="425.5" y1="516.8" x2="425.5" y2="514.8" stroke="#000" stroke-width="0.5" opacity="0.6"/>
<line x1="452.8" y1="501.5" x2="452.8" y2="503.5" stroke="#000" stroke-width="0.5" opacity="0.6"/>
<line x1="452.8" y1="516.8" x2="452.8" y2="514.8" stroke="#000" stroke-width="0.5" opacity="0.6"/>
</svg></body></html>
